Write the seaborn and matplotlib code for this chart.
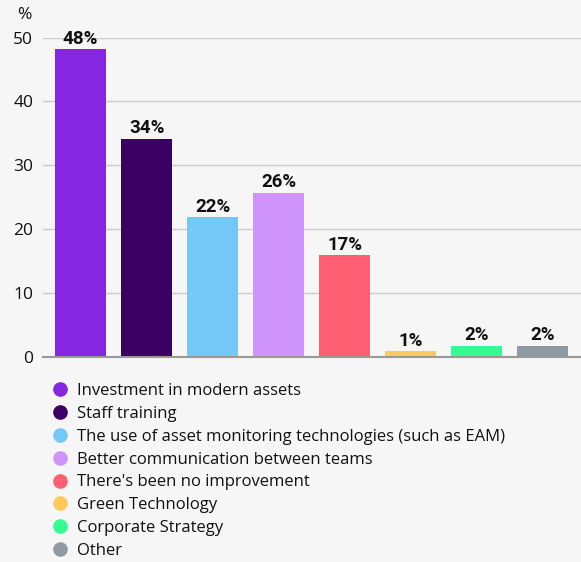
import matplotlib
matplotlib.use("Agg")
import matplotlib.pyplot as plt
import seaborn as sns
from matplotlib.lines import Line2D

# values (bar heights) and the printed labels
categories = [
    "Investment in modern assets",
    "Staff training",
    "The use of asset monitoring technologies (such as EAM)",
    "Better communication between teams",
    "There's been no improvement",
    "Green Technology",
    "Corporate Strategy",
    "Other",
]
heights = [48.2, 34.2, 21.9, 25.7, 15.9, 0.9, 1.7, 1.7]
labels = ["48%", "34%", "22%", "26%", "17%", "1%", "2%", "2%"]
colors = ["#8526e0", "#3a0064", "#73c8f7", "#cf94fc",
          "#ff5f73", "#ffc95b", "#33fd92", "#8f9aa3"]
yticks = [0, 10, 20, 30, 40, 50]

BG = "#f6f6f6"

sns.set_theme(style="white")
plt.rcParams["font.family"] = ["Open Sans", "DejaVu Sans"]

fig = plt.figure(figsize=(5.81, 5.62), dpi=100, facecolor=BG)
ax = fig.add_axes([43 / 581, 205.3 / 562, 538 / 581, 319 / 562])
ax.set_facecolor(BG)

sns.barplot(x=categories, y=heights, hue=categories, palette=colors,
            width=0.77, saturation=1, linewidth=0, legend=False, ax=ax)

for cont, lab in zip(ax.containers, labels):
    ax.bar_label(cont, labels=[lab], padding=1, fontsize=13.5,
                 fontweight="bold", family=["Roboto", "DejaVu Sans"],
                 color="#111111", clip_on=False)

ax.set_ylim(0, 50)
ax.set_xlim(-0.57, 7.58)
ax.set_yticks(yticks)
ax.set_xticks([])
ax.set_xlabel("")
ax.set_ylabel("")
ax.tick_params(axis="y", length=0, labelsize=12.5, pad=7, colors="#111111")
ax.yaxis.grid(True, color="#cccccc", linewidth=1)
ax.set_axisbelow(True)
for side in ["top", "right", "left"]:
    ax.spines[side].set_visible(False)
ax.spines["bottom"].set_color("#999999")
ax.spines["bottom"].set_linewidth(1.5)

fig.text(17 / 581, 1 - 15 / 562, "%", fontsize=12.5, color="#111111",
         va="center", ha="left")

handles = [Line2D([], [], marker="o", linestyle="", markersize=9.5,
                  markerfacecolor=c, markeredgecolor=c) for c in colors]
fig.legend(handles, categories, loc="upper left",
           bbox_to_anchor=(52 / 581, 1 - 383 / 562), frameon=False,
           fontsize=12, handlelength=0.9, handletextpad=0.6,
           labelspacing=0.41, borderaxespad=0, borderpad=0,
           labelcolor="#111111")

fig.savefig("out.png", dpi=100, facecolor=BG)
